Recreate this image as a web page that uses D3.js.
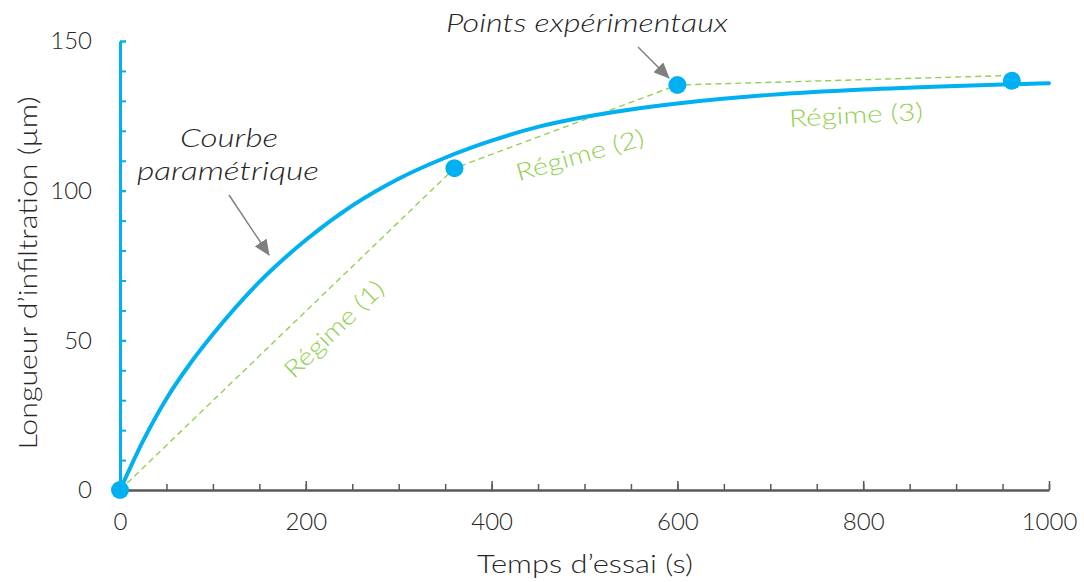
<!DOCTYPE html>
<html>
<head>
<meta charset="utf-8">
<script src="https://cdn.jsdelivr.net/npm/d3@7"></script>
<style>
  html, body { margin: 0; padding: 0; background: #fff; }
  svg { display: block; font-family: Lato, "Open Sans", sans-serif; }
</style>
</head>
<body>
<svg id="chart" width="1084" height="582"></svg>
<script>
// ---- Data ----
// Parametric curve samples: time (s) and infiltration length (µm)
const curveTime   = [0, 25, 50, 75, 100, 150, 200, 250, 300, 350, 400, 450, 500, 550, 600, 700, 800, 900, 1000];
const curveLength = [0, 16.5, 30.5, 42.0, 52.0, 69.5, 83.5, 95.0, 104.0, 111.0, 116.7, 121.3, 124.6, 127.1, 129.1, 132.0, 133.8, 135.0, 135.9];
// Experimental points
const pointTime   = [0, 360, 600, 960];
const pointLength = [0, 107.5, 135.3, 136.7];
// Regime (dashed) segments
const regimeTime   = [0, 360, 600, 960];
const regimeLength = [0, 107.5, 135.3, 138.5];
// Ticks
const xMajorTicks = [0, 200, 400, 600, 800, 1000];
const xMinorTicks = d3.range(0, 1001, 50);
const yMajorTicks = [0, 50, 100, 150];
const yMinorTicks = d3.range(0, 151, 10);
const xTitle = "Temps d’essai (s)";
const yTitle = "Longueur d’infiltration (µm)";
const regimeLabels = ["Régime (1)", "Régime (2)", "Régime (3)"];

// ---- Setup ----
const svg = d3.select("#chart");
const x = d3.scaleLinear().domain([0, 1000]).range([120, 1049]);
const y = d3.scaleLinear().domain([0, 150]).range([490, 41]);

const blue = "#00B0F0";
const green = "#92D050";
const grey = "#595959";
const textCol = "#262626";
const fmt = d3.format("d");

// ---- Axes ----
svg.append("g")
  .attr("transform", `translate(0,${y(0)})`)
  .call(d3.axisBottom(x).tickValues(xMinorTicks).tickSizeInner(-6).tickSizeOuter(0).tickFormat(""))
  .call(g => g.select(".domain").remove())
  .call(g => g.selectAll(".tick line").attr("stroke", grey).attr("stroke-width", 1.5));
svg.append("g")
  .attr("transform", `translate(0,${y(0)})`)
  .call(d3.axisBottom(x).tickValues(xMajorTicks).tickSizeInner(-9).tickSizeOuter(0).tickFormat(fmt))
  .call(g => g.select(".domain").attr("stroke", grey).attr("stroke-width", 2.5))
  .call(g => g.selectAll(".tick line").attr("stroke", grey).attr("stroke-width", 1.5))
  .call(g => g.selectAll(".tick text")
      .attr("fill", textCol).attr("font-size", 24).attr("font-weight", 300)
      .attr("font-family", "Lato, sans-serif").attr("dy", "0.71em").attr("y", 23));

svg.append("g")
  .attr("transform", `translate(${x(0)},0)`)
  .call(d3.axisLeft(y).tickValues(yMinorTicks).tickSizeInner(-6).tickSizeOuter(0).tickFormat(""))
  .call(g => g.select(".domain").remove())
  .call(g => g.selectAll(".tick line").attr("stroke", blue).attr("stroke-width", 2));
svg.append("g")
  .attr("transform", `translate(${x(0)},0)`)
  .call(d3.axisLeft(y).tickValues(yMajorTicks).tickSizeInner(-6).tickSizeOuter(0).tickPadding(28).tickFormat(fmt))
  .call(g => g.select(".domain").attr("stroke", blue).attr("stroke-width", 3))
  .call(g => g.selectAll(".tick line").attr("stroke", blue).attr("stroke-width", 2))
  .call(g => g.selectAll(".tick text")
      .attr("fill", textCol).attr("font-size", 24).attr("font-weight", 300)
      .attr("font-family", "Lato, sans-serif"));

// Axis titles
svg.append("text")
  .attr("x", 585).attr("y", 573)
  .attr("text-anchor", "middle")
  .attr("font-size", 26).attr("font-weight", 300).attr("fill", textCol)
  .attr("textLength", 216).attr("lengthAdjust", "spacingAndGlyphs")
  .text(xTitle);

svg.append("text")
  .attr("transform", "translate(37,273) rotate(-90)")
  .attr("text-anchor", "middle")
  .attr("font-size", 26).attr("font-weight", 300).attr("fill", textCol)
  .attr("textLength", 353).attr("lengthAdjust", "spacingAndGlyphs")
  .text(yTitle);

// ---- Regime dashed line ----
const regimeData = regimeTime.map((t, i) => [t, regimeLength[i]]);
svg.append("path")
  .datum(regimeData)
  .attr("fill", "none")
  .attr("stroke", green)
  .attr("stroke-width", 1.4)
  .attr("stroke-dasharray", "6,4")
  .attr("d", d3.line().x(d => x(d[0])).y(d => y(d[1])));

// ---- Parametric curve ----
const curveData = curveTime.map((t, i) => [t, curveLength[i]]);
svg.append("path")
  .datum(curveData)
  .attr("fill", "none")
  .attr("stroke", blue)
  .attr("stroke-width", 4)
  .attr("stroke-linecap", "round")
  .attr("d", d3.line().curve(d3.curveMonotoneX).x(d => x(d[0])).y(d => y(d[1])));

// ---- Experimental points ----
svg.append("g")
  .selectAll("circle")
  .data(pointTime.map((t, i) => [t, pointLength[i]]))
  .join("circle")
  .attr("cx", d => x(d[0]))
  .attr("cy", d => y(d[1]))
  .attr("r", 9)
  .attr("fill", blue);

// ---- Annotations ----
const defs = svg.append("defs");
defs.append("marker")
  .attr("id", "arrow")
  .attr("markerUnits", "userSpaceOnUse")
  .attr("viewBox", "0 0 16 14")
  .attr("refX", 15).attr("refY", 7)
  .attr("markerWidth", 16).attr("markerHeight", 14)
  .attr("orient", "auto")
  .append("path")
  .attr("d", "M0,0 L16,7 L0,14 Z")
  .attr("fill", "#7F7F7F");

svg.append("line")
  .attr("x1", 229).attr("y1", 195).attr("x2", 269).attr("y2", 255)
  .attr("stroke", "#7F7F7F").attr("stroke-width", 1.5)
  .attr("marker-end", "url(#arrow)");
svg.append("line")
  .attr("x1", 638).attr("y1", 47).attr("x2", 669).attr("y2", 78)
  .attr("stroke", "#7F7F7F").attr("stroke-width", 1.5)
  .attr("marker-end", "url(#arrow)");

function italicText(txt, cx, by, len) {
  svg.append("text")
    .attr("x", cx).attr("y", by)
    .attr("text-anchor", "middle")
    .attr("font-size", 26).attr("font-style", "italic").attr("font-weight", 300)
    .attr("fill", textCol)
    .attr("textLength", len).attr("lengthAdjust", "spacingAndGlyphs")
    .text(txt);
}
italicText("Courbe", 229, 147, 98);
italicText("paramétrique", 228, 180, 182);
italicText("Points expérimentaux", 587, 32, 282);

const regimePos = [
  { cx: 334, cy: 329, rot: -44, len: 128 },
  { cx: 580, cy: 155, rot: -16, len: 132 },
  { cx: 856, cy: 115, rot: -3,  len: 134 }
];
regimeLabels.forEach((lbl, i) => {
  const p = regimePos[i];
  svg.append("text")
    .attr("transform", `translate(${p.cx},${p.cy}) rotate(${p.rot})`)
    .attr("text-anchor", "middle")
    .attr("dy", "0.35em")
    .attr("font-size", 24).attr("font-weight", 300)
    .attr("fill", green)
    .attr("textLength", p.len).attr("lengthAdjust", "spacingAndGlyphs")
    .text(lbl);
});
</script>
</body>
</html>
